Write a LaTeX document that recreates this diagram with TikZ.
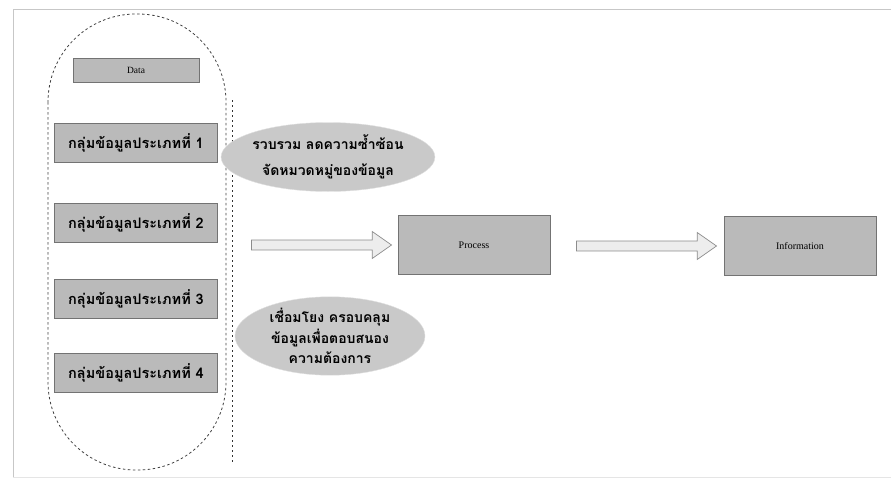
\documentclass[tikz,border=0pt]{standalone}
\usepackage{fontspec}
\setmainfont{Liberation Serif}
\newfontfamily\thai[Script=Thai]{Loma}
\usetikzlibrary{shapes.geometric,shapes.arrows}

\begin{document}
\begin{tikzpicture}[x=1pt,y=-1pt,
  greybox/.style={draw=black!55, fill=black!27, line width=0.9pt, inner sep=0pt},
  groupbox/.style={greybox, minimum width=163pt, minimum height=39pt,
    font=\thai\bfseries\fontsize{14.5}{16}\selectfont},
  bigbox/.style={greybox, minimum width=152pt, minimum height=59pt,
    font=\fontsize{10}{12}\selectfont},
  blob/.style={ellipse, fill=black!21, draw=black!12, inner sep=0pt, align=center},
  bigarrow/.style={single arrow, draw=black!45, fill=black!7, line width=0.7pt,
    inner sep=4.5pt, single arrow head extend=8.5pt, single arrow tip angle=70,
    minimum width=27pt},
  frameline/.style={draw=black!22, line width=1pt}
]
\useasboundingbox (0,0) rectangle (891,479);

% outer frame
\draw[frameline] (13,477) -- (13,9) -- (891,9);
\draw[draw=black!10, line width=1pt] (13,477) -- (891,477);

% grouping outline around the data groups
\draw[black!75, line width=0.8pt, dash pattern=on 2.5pt off 2.5pt, rounded corners=88pt]
  (48,14) rectangle (226,470);
\coordinate (sepTop) at (232,100);
\coordinate (sepBot) at (232,463);
\draw[black!80, line width=1pt, dash pattern=on 1.5pt off 3.5pt] (sepTop) -- (sepBot);

% data groups
\node[greybox, minimum width=126pt, minimum height=24pt, font=\fontsize{9.5}{11}\selectfont]
  (data) at (136,70) {Data};
\node[groupbox] (g1) at (136,143) {กลุ่มข้อมูลประเภทที่ 1};
\node[groupbox] (g2) at (136,223) {กลุ่มข้อมูลประเภทที่ 2};
\node[groupbox] (g3) at (136,299) {กลุ่มข้อมูลประเภทที่ 3};
\node[groupbox] (g4) at (136,373) {กลุ่มข้อมูลประเภทที่ 4};

% processing notes
\node[blob, minimum width=196pt, minimum height=69pt,
  font=\thai\bfseries\fontsize{14}{26}\selectfont] (n1) at (328,157)
  {รวบรวม ลดความซ้ำซ้อน\\จัดหมวดหมู่ของข้อมูล};
\node[blob, minimum width=190pt, minimum height=72pt,
  font=\thai\bfseries\fontsize{14}{20.5}\selectfont] (n2) at (330,336)
  {เชื่อมโยง ครอบคลุม\\ข้อมูลเพื่อตอบสนอง\\ความต้องการ};

% flow
\node[bigarrow, minimum height=140pt] (a1) at (318,245) {};
\node[bigbox] (proc) at (474,245) {Process};
\node[bigarrow, minimum height=140pt] (a2) at (643,246) {};
\node[bigbox] (info) at (800,246) {Information};
\end{tikzpicture}
\end{document}
